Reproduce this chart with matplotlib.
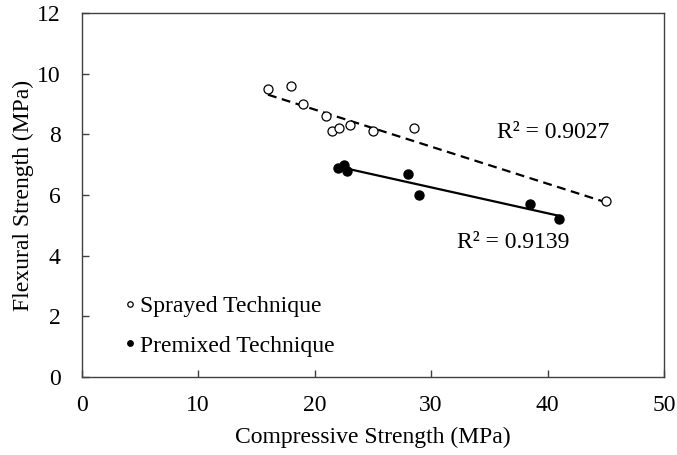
import numpy as np
import matplotlib
matplotlib.use("Agg")
import matplotlib.pyplot as plt

plt.rcParams["font.family"] = ["Liberation Serif", "DejaVu Serif"]

# Sprayed technique (open circles)
spr_x = [16.0, 18.0, 19.0, 21.0, 21.5, 22.1, 23.0, 25.0, 28.5, 45.0]
spr_y = [9.5, 9.6, 9.0, 8.6, 8.1, 8.2, 8.3, 8.1, 8.2, 5.8]
# Premixed technique (filled circles)
pre_x = [22.0, 22.5, 22.8, 28.0, 29.0, 38.5, 41.0]
pre_y = [6.9, 7.0, 6.8, 6.7, 6.0, 5.7, 5.2]

r2_spr = "R² = 0.9027"
r2_pre = "R² = 0.9139"

FS = 17

fig = plt.figure(figsize=(6.77, 4.55), dpi=100)
ax = fig.add_axes([0.1206, 0.1714, 0.8602, 0.8000])

ax.plot(spr_x, spr_y, "o", mfc="white", mec="black", mew=0.9, ms=6.5,
        label="Sprayed Technique", zorder=3)
ax.plot(pre_x, pre_y, "o", mfc="black", mec="black", ms=6.5,
        label="Premixed Technique", zorder=3)

# linear trendlines over the data range
for xs, ys, ls in [(spr_x, spr_y, (0, (4, 2.5))), (pre_x, pre_y, "-")]:
    k, b = np.polyfit(xs, ys, 1)
    xx = np.array([min(xs), max(xs)])
    ax.plot(xx, k * xx + b, color="black", lw=1.6, ls=ls, zorder=2)

ax.text(35.7, 8.05, r2_spr, fontsize=FS, va="center", ha="left")
ax.text(32.2, 4.43, r2_pre, fontsize=FS, va="center", ha="left")

ax.set_xlim(0, 50)
ax.set_ylim(0, 12)
ax.set_xticks(range(0, 51, 10))
ax.set_yticks(range(0, 13, 2))
ax.tick_params(axis="x", direction="in", length=5, width=1, labelsize=FS, pad=13)
ax.tick_params(axis="y", direction="in", length=5, width=1, labelsize=FS, pad=15)
for sp in ax.spines.values():
    sp.set_color("#404040")
    sp.set_linewidth(1.0)
ax.tick_params(colors="#404040", labelcolor="black")

ax.set_xlabel("Compressive Strength (MPa)", fontsize=FS, labelpad=8)
ax.set_ylabel("Flexural Strength (MPa)", fontsize=FS, labelpad=2)

leg = ax.legend(loc="lower left", bbox_to_anchor=(0.06, 0.03), frameon=False,
                fontsize=FS, handlelength=0.3, handletextpad=0.3,
                markerscale=0.6, labelspacing=0.75, borderaxespad=0)

fig.savefig("out.png", dpi=100)
